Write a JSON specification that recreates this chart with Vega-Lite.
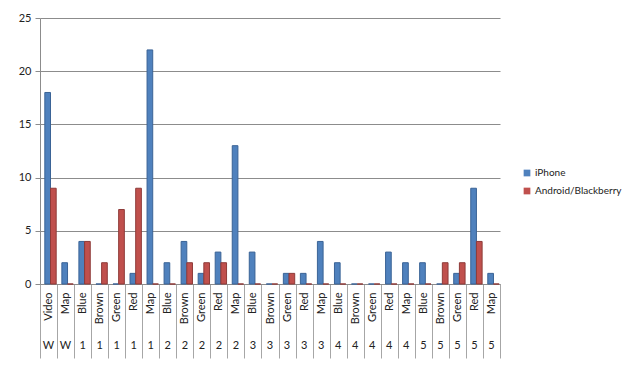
{
  "$schema": "https://vega.github.io/schema/vega-lite/v6.json",
  "autosize": {"type": "none"},
  "width": 460,
  "height": 266,
  "padding": {"left": 40, "top": 18, "right": 129, "bottom": 85},
  "background": "white",
  "config": {
    "font": "Lato",
    "view": {"stroke": null},
    "axis": {"labelFont": "Lato", "labelFontSize": 11, "labelColor": "#222", "domainColor": "#8c8c8c", "tickColor": "#a6a6a6", "title": null}
  },
  "data": {"values": [
    {"key": "01|W|Video", "series": "iPhone", "count": 18}, {"key": "01|W|Video", "series": "Android/Blackberry", "count": 9},
    {"key": "02|W|Map", "series": "iPhone", "count": 2}, {"key": "02|W|Map", "series": "Android/Blackberry", "count": 0},
    {"key": "03|1|Blue", "series": "iPhone", "count": 4}, {"key": "03|1|Blue", "series": "Android/Blackberry", "count": 4},
    {"key": "04|1|Brown", "series": "iPhone", "count": 0}, {"key": "04|1|Brown", "series": "Android/Blackberry", "count": 2},
    {"key": "05|1|Green", "series": "iPhone", "count": 0}, {"key": "05|1|Green", "series": "Android/Blackberry", "count": 7},
    {"key": "06|1|Red", "series": "iPhone", "count": 1}, {"key": "06|1|Red", "series": "Android/Blackberry", "count": 9},
    {"key": "07|1|Map", "series": "iPhone", "count": 22}, {"key": "07|1|Map", "series": "Android/Blackberry", "count": 0},
    {"key": "08|2|Blue", "series": "iPhone", "count": 2}, {"key": "08|2|Blue", "series": "Android/Blackberry", "count": 0},
    {"key": "09|2|Brown", "series": "iPhone", "count": 4}, {"key": "09|2|Brown", "series": "Android/Blackberry", "count": 2},
    {"key": "10|2|Green", "series": "iPhone", "count": 1}, {"key": "10|2|Green", "series": "Android/Blackberry", "count": 2},
    {"key": "11|2|Red", "series": "iPhone", "count": 3}, {"key": "11|2|Red", "series": "Android/Blackberry", "count": 2},
    {"key": "12|2|Map", "series": "iPhone", "count": 13}, {"key": "12|2|Map", "series": "Android/Blackberry", "count": 0},
    {"key": "13|3|Blue", "series": "iPhone", "count": 3}, {"key": "13|3|Blue", "series": "Android/Blackberry", "count": 0},
    {"key": "14|3|Brown", "series": "iPhone", "count": 0}, {"key": "14|3|Brown", "series": "Android/Blackberry", "count": 0},
    {"key": "15|3|Green", "series": "iPhone", "count": 1}, {"key": "15|3|Green", "series": "Android/Blackberry", "count": 1},
    {"key": "16|3|Red", "series": "iPhone", "count": 1}, {"key": "16|3|Red", "series": "Android/Blackberry", "count": 0},
    {"key": "17|3|Map", "series": "iPhone", "count": 4}, {"key": "17|3|Map", "series": "Android/Blackberry", "count": 0},
    {"key": "18|4|Blue", "series": "iPhone", "count": 2}, {"key": "18|4|Blue", "series": "Android/Blackberry", "count": 0},
    {"key": "19|4|Brown", "series": "iPhone", "count": 0}, {"key": "19|4|Brown", "series": "Android/Blackberry", "count": 0},
    {"key": "20|4|Green", "series": "iPhone", "count": 0}, {"key": "20|4|Green", "series": "Android/Blackberry", "count": 0},
    {"key": "21|4|Red", "series": "iPhone", "count": 3}, {"key": "21|4|Red", "series": "Android/Blackberry", "count": 0},
    {"key": "22|4|Map", "series": "iPhone", "count": 2}, {"key": "22|4|Map", "series": "Android/Blackberry", "count": 0},
    {"key": "23|5|Blue", "series": "iPhone", "count": 2}, {"key": "23|5|Blue", "series": "Android/Blackberry", "count": 0},
    {"key": "24|5|Brown", "series": "iPhone", "count": 0}, {"key": "24|5|Brown", "series": "Android/Blackberry", "count": 2},
    {"key": "25|5|Green", "series": "iPhone", "count": 1}, {"key": "25|5|Green", "series": "Android/Blackberry", "count": 2},
    {"key": "26|5|Red", "series": "iPhone", "count": 9}, {"key": "26|5|Red", "series": "Android/Blackberry", "count": 4},
    {"key": "27|5|Map", "series": "iPhone", "count": 1}, {"key": "27|5|Map", "series": "Android/Blackberry", "count": 0}
  ]},
  "layer": [
    {
      "transform": [{"filter": "datum.series === 'iPhone'"}],
      "mark": {"type": "bar", "strokeWidth": 1},
      "encoding": {
        "x": {"field": "key", "type": "nominal", "sort": "ascending",
          "scale": {"paddingInner": 0, "paddingOuter": 0},
          "axis": {"orient": "bottom", "labelExpr": "split(datum.label, '|')[2]", "labelAngle": -90, "labelAlign": "right", "labelBaseline": "middle", "labelPadding": -66, "tickBand": "extent", "tickSize": 74, "grid": false}},
        "xOffset": {"field": "series", "type": "nominal", "scale": {"domain": ["iPhone", "Android/Blackberry"], "paddingInner": 0, "paddingOuter": 0.5, "align": 0.85}},
        "y": {"field": "count", "type": "quantitative",
          "scale": {"domain": [0, 25], "nice": false},
          "axis": {"values": [0, 5, 10, 15, 20, 25], "grid": true, "gridColor": "#8c8c8c", "tickSize": 5, "tickColor": "#8c8c8c", "labelPadding": 4}},
        "color": {"field": "series", "type": "nominal",
          "scale": {"domain": ["iPhone", "Android/Blackberry"], "range": ["#4F81BD", "#C0504D"]},
          "legend": {"title": null, "orient": "none", "legendX": 482, "legendY": 150, "symbolType": "square", "symbolSize": 45, "labelFontSize": 10, "labelFont": "Lato", "labelColor": "#222", "labelOffset": 3, "rowPadding": 8, "padding": 0, "symbolStrokeWidth": 0}},
        "stroke": {"field": "series", "type": "nominal", "scale": {"domain": ["iPhone", "Android/Blackberry"], "range": ["#3A6396", "#8E3B39"]}, "legend": null}
      }
    },
    {
      "transform": [{"filter": "datum.series !== 'iPhone'"}],
      "mark": {"type": "bar", "strokeWidth": 1},
      "encoding": {
        "x": {"field": "key", "type": "nominal", "sort": "ascending",
          "axis": {"orient": "bottom", "labelExpr": "split(datum.label, '|')[1]", "labelAngle": 0, "labelAlign": "center", "labelBaseline": "top", "ticks": false, "domain": false, "labelPadding": 55, "grid": false}},
        "xOffset": {"field": "series", "type": "nominal"},
        "y": {"field": "count", "type": "quantitative"},
        "color": {"field": "series", "type": "nominal"},
        "stroke": {"field": "series", "type": "nominal", "legend": null}
      }
    }
  ],
  "resolve": {"axis": {"x": "independent"}}
}
